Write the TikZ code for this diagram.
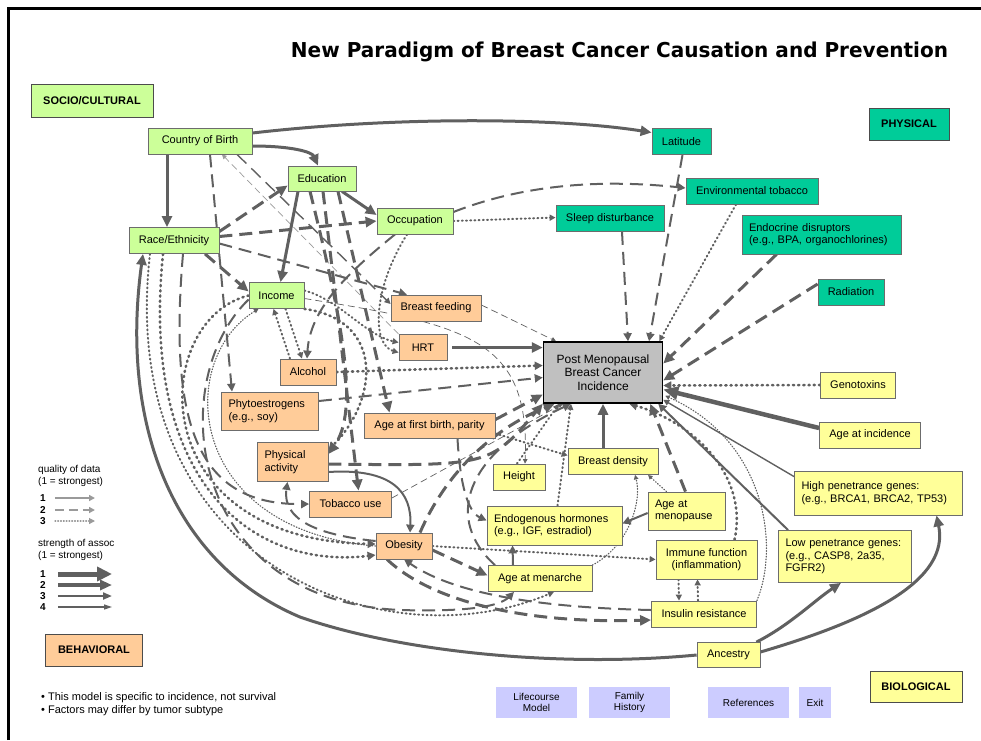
\documentclass[tikz,border=0pt]{standalone}
\usepackage{fontspec}
\usepackage{graphicx}
\setmainfont{Liberation Sans}
\newfontfamily\titlefont{DejaVu Sans}
\usetikzlibrary{arrows.meta,backgrounds}

\definecolor{lncol}{HTML}{606060}
\definecolor{legq}{HTML}{9A9A9A}
\definecolor{soc}{HTML}{CCFF99}
\definecolor{phy}{HTML}{00CC99}
\definecolor{beh}{HTML}{FFCC99}
\definecolor{bio}{HTML}{FFFF99}
\definecolor{btn}{HTML}{CCCCFF}
\definecolor{outc}{HTML}{C0C0C0}

\begin{document}
\begin{tikzpicture}[x=1pt, y=-1pt, font=\fontsize{11}{12.5}\selectfont,
    box/.style={draw=gray!85!black, line width=0.8pt, inner sep=2pt},
    socb/.style={box, fill=soc}, phyb/.style={box, fill=phy},
    behb/.style={box, fill=beh}, biob/.style={box, fill=bio},
    cat/.style={font=\fontsize{11}{13}\selectfont\bfseries, draw=gray!60!black},
    btnb/.style={fill=btn, align=center, inner sep=1pt, font=\fontsize{10}{11.5}\selectfont},
    sz/.style 2 args={minimum width=#1pt, minimum height=#2pt},
    lft/.style={align=left, text width=#1pt, inner xsep=7pt},
    num/.style={inner sep=0pt, font=\fontsize{10}{12}\selectfont\bfseries},
    sa/.style={draw=lncol, line width=4.5pt, -{Triangle[length=15pt,width=13pt]}},
    sb/.style={draw=lncol, line width=3pt, -{Triangle[length=11pt,width=10pt]}},
    sc/.style={draw=lncol, line width=2pt, -{Triangle[length=8pt,width=8pt]}},
    sd/.style={draw=lncol, line width=1.4pt, -{Triangle[length=6pt,width=6pt]}},
    se/.style={draw=lncol, line width=0.7pt, -{Triangle[length=4.5pt,width=4.5pt]}},
    dl/.style={dash pattern=on 13pt off 7pt},
    ds/.style={dash pattern=on 7pt off 4pt},
    dtl/.style={line width=2.6pt, dash pattern=on 1.2pt off 4pt, line cap=round},
    dt/.style={line width=2pt, dash pattern=on 1pt off 3.2pt, line cap=round},
    dts/.style={line width=1.2pt, dash pattern=on 0.8pt off 2pt, line cap=round}]

\useasboundingbox (0,0) rectangle (981,740);
\draw[line width=3pt] (8,740) -- (8,8) -- (981,8);

% title
\node[inner sep=0pt] (ttl) at (619.5,51.5)
  {\resizebox*{657pt}{20pt}{\titlefont\bfseries New Paradigm of Breast Cancer Causation and Prevention}};

% category labels
\node[socb, cat, sz={122}{33}] (lsoc) at (92,100.5) {SOCIO/CULTURAL};
\node[phyb, cat, sz={80}{32}] (lphy) at (909,124) {PHYSICAL};
\node[behb, cat, sz={97}{32}] (lbeh) at (94,650) {BEHAVIORAL};
\node[biob, cat, sz={92}{31}] (lbio) at (916,687) {BIOLOGICAL};

% socio/cultural
\node[socb, sz={104}{26}] (cob) at (200,141) {Country of Birth};
\node[socb, sz={68}{25}] (edu) at (322,178.5) {Education};
\node[socb, sz={76}{26}] (occ) at (415,221) {Occupation};
\node[socb, sz={90}{26}] (race) at (174,240.5) {Race/Ethnicity};
\node[socb, sz={55}{26}] (inc) at (276.5,295.5) {Income};

% physical
\node[phyb, sz={59}{26}] (lat) at (681.5,141.5) {Latitude};
\node[phyb, sz={132}{26}] (envt) at (752,191) {Environmental tobacco};
\node[phyb, sz={108}{26}] (sleep) at (610,218.5) {Sleep disturbance};
\node[phyb, sz={159}{39}, lft=145] (endo) at (821.5,234.5) {Endocrine disruptors\\(e.g., BPA, organochlorines)};
\node[phyb, sz={66}{26}] (rad) at (851,292) {Radiation};

% behavioral
\node[behb, sz={90}{26}] (bf) at (436,308) {Breast feeding};
\node[behb, sz={48}{26}] (hrt) at (423,347.5) {HRT};
\node[behb, sz={56}{26}] (alc) at (308,372) {Alcohol};
\node[behb, sz={97}{38}, lft=83] (phyto) at (270,411) {Phytoestrogens\\(e.g., soy)};
\node[behb, sz={131}{25}] (afb) at (429.5,425.5) {Age at first birth, parity};
\node[behb, sz={71}{39}, lft=56] (pa) at (292.5,462) {Physical\\activity};
\node[behb, sz={82}{26}] (tob) at (350.5,504) {Tobacco use};
\node[behb, sz={56}{26}] (obe) at (404,546) {Obesity};

% outcome
\node[box, fill=outc, draw=black, line width=1.5pt, sz={119}{61}, align=center,
  font=\fontsize{12}{13.5}\selectfont] (post) at (603,372.5) {Post Menopausal\\Breast Cancer\\Incidence};

% biological
\node[biob, sz={75}{26}] (geno) at (858,385) {Genotoxins};
\node[biob, sz={101}{26}] (ainc) at (870,435) {Age at incidence};
\node[biob, sz={168}{44}, lft=154] (hpg) at (878.5,493) {High penetrance genes:\\(e.g., BRCA1, BRCA2, TP53)};
\node[biob, sz={133}{52}, lft=119] (lpg) at (845,556.5) {Low penetrance genes:\\(e.g., CASP8, 2a35,\\FGFR2)};
\node[biob, sz={52}{26}] (hgt) at (519,477) {Height};
\node[biob, sz={90}{26}] (bd) at (613,461.5) {Breast density};
\node[biob, sz={77}{38}, lft=63] (amen) at (686.5,511) {Age at\\menopause};
\node[biob, sz={135}{39}, lft=121] (eh) at (554.5,525.5) {Endogenous hormones\\(e.g., IGF, estradiol)};
\node[biob, sz={101}{39}, align=center] (imm) at (706.5,559.5) {Immune function\\(inflammation)};
\node[biob, sz={104}{26}] (amar) at (540,578.5) {Age at menarche};
\node[biob, sz={105}{26}] (ir) at (704,614) {Insulin resistance};
\node[biob, sz={63}{25}] (anc) at (728.5,655) {Ancestry};

% buttons
\node[btnb, sz={81}{31}] (blc) at (536.5,702.5) {Lifecourse\\Model};
\node[btnb, sz={81}{31}] (bfh) at (629.5,702.5) {Family\\History};
\node[btnb, sz={81}{31}] (bref) at (748.5,702.5) {References};
\node[btnb, sz={32}{31}] (bex) at (815,702.5) {Exit};

% notes
\node[anchor=west, inner sep=0pt] (nt1) at (41,698) {\textbullet\ This model is specific to incidence, not survival};
\node[anchor=west, inner sep=0pt] (nt2) at (41,711) {\textbullet\ Factors may differ by tumor subtype};

% legend
\node[anchor=west, inner sep=0pt, align=left, font=\fontsize{10}{12}\selectfont] (lgq) at (38,476) {quality of data\\(1 = strongest)};
\node[num] (q1) at (43,498) {1};
\node[num] (q2) at (43,510) {2};
\node[num] (q3) at (43,521) {3};
\coordinate (q1e) at (95,498);
\coordinate (q2e) at (95,510);
\coordinate (q3e) at (95,521);
\draw[legq, line width=1.5pt, -{Triangle[length=6pt,width=6pt]}] ([xshift=9pt]q1.east) -- (q1e);
\draw[legq, line width=1.5pt, dash pattern=on 9pt off 5pt, -{Triangle[length=6pt,width=6pt]}] ([xshift=9pt]q2.east) -- (q2e);
\draw[legq, dts, -{Triangle[length=6pt,width=6pt]}] ([xshift=9pt]q3.east) -- (q3e);

\node[anchor=west, inner sep=0pt, align=left, font=\fontsize{10}{12}\selectfont] (lgs) at (38,550) {strength of assoc\\(1 = strongest)};
\node[num] (s1) at (43,574) {1};
\node[num] (s2) at (43,585) {2};
\node[num] (s3) at (43,596) {3};
\node[num] (s4) at (43,607) {4};
\coordinate (s1e) at (112,574);
\coordinate (s2e) at (112,585);
\coordinate (s3e) at (112,596);
\coordinate (s4e) at (112,607);
\draw[lncol, line width=5pt, -{Triangle[length=15pt,width=14pt]}] ([xshift=12pt]s1.east) -- (s1e);
\draw[lncol, line width=3.5pt, -{Triangle[length=12pt,width=10pt]}] ([xshift=12pt]s2.east) -- (s2e);
\draw[lncol, line width=2pt, -{Triangle[length=9pt,width=7pt]}] ([xshift=12pt]s3.east) -- (s3e);
\draw[lncol, line width=1.3pt, -{Triangle[length=8pt,width=5pt]}] ([xshift=12pt]s4.east) -- (s4e);

\begin{pgfonlayer}{background}
% socio/cultural links
\draw[sb] ([yshift=8pt]cob.east) .. controls (400,116) and (560,118) .. ([yshift=9pt]lat.west);
\draw[sb] ([yshift=-5pt]cob.east) .. controls (292,146) and (312,152) .. ([xshift=-4pt]edu.north);
\draw[sb] ([xshift=-33pt]cob.south) -- ([xshift=-7pt]race.north);
\draw[sc, dl] ([xshift=10pt]cob.south) -- ([xshift=-38pt]phyto.north);
\draw[sd, dl] ([xshift=37pt]cob.south) -- ([yshift=4pt]bf.west);
\draw[se, ds, draw=legq] (hrt.north west) -- ([xshift=22pt]cob.south);
\draw[sb, dl] ([yshift=9pt]race.east) -- ([yshift=-7pt]edu.west);
\draw[sb, dl] ([yshift=4pt]race.east) -- (occ.west);
\draw[sc, dl] ([yshift=-3pt]race.east) -- ([xshift=-29pt]bf.north);
\draw[sb, dl] ([xshift=31pt]race.south) -- ([yshift=4pt]inc.west);
\draw[sb] ([xshift=20pt]edu.south) -- ([yshift=6pt]occ.west);
\draw[sb] ([xshift=-24pt]edu.south) -- ([xshift=4pt]inc.north);
\draw[sb, dl] ([xshift=-12pt]edu.south) .. controls (342,320) and (360,410) .. ([yshift=8pt]pa.east);
\draw[sb, dl] ([xshift=1pt]edu.south) -- ([xshift=8pt]tob.north);
\draw[sb, dl] ([xshift=16pt]edu.south) -- ([xshift=-40pt]afb.north);
\draw[sc, dl] ([xshift=-20pt]occ.south) .. controls (345,275) and (310,310) .. ([xshift=-1pt]alc.north);
\draw[sd, dt] ([xshift=-8pt]occ.south) .. controls (372,290) and (372,345) .. ([yshift=-5pt]hrt.west);
\draw[sd, dt] (occ.east) -- ([yshift=1pt]sleep.west);
\draw[sc, dl] ([yshift=9pt]occ.east) .. controls (530,182) and (610,180) .. ([yshift=3pt]envt.west);
\draw[sd, dt] ([xshift=9pt]inc.south) -- ([xshift=-6pt]alc.north);
\draw[sd, dt] ([xshift=-18pt]alc.north) -- ([xshift=-3pt]inc.south);
\draw[sd, dt] ([yshift=5pt]inc.east) .. controls (340,300) and (365,335) .. ([yshift=5pt]hrt.west);
\draw[se, ds] ([yshift=-3pt]inc.east) .. controls (470,325) and (530,340) .. ([xshift=6pt]hgt.north);
\draw[sc, dtl] (inc.south east) .. controls (385,320) and (378,400) .. ([yshift=12pt]pa.east);
\draw[se, dts] (obe.west) .. controls (185,530) and (175,360) .. ([xshift=-18pt]inc.south);
\draw[sc, dtl] (inc.west) .. controls (150,320) and (140,540) .. ([yshift=2pt]obe.west);
\draw[sc, dtl] ([xshift=-11pt]race.south) .. controls (140,480) and (250,570) .. ([yshift=-9pt]obe.west);
\draw[sc, dl] ([xshift=9pt]race.south) .. controls (168,430) and (200,505) .. (tob.west);
\draw[sd, dt] ([xshift=-24pt]race.south) .. controls (115,560) and (380,665) .. ([xshift=14pt]amar.south);
\draw[sc, dl] ([yshift=-4pt]inc.west) .. controls (165,380) and (185,600) .. (400,610)
  .. controls (470,612) and (500,606) .. ([xshift=-26pt]amar.south);
\draw[sb] (anc.west) .. controls (560,668) and (400,652) .. (300,617)
  .. controls (170,562) and (120,420) .. ([xshift=-31pt]race.south);

% behavioral links
\draw[sc] ([yshift=-10pt]pa.east) .. controls (392,468) and (412,492) .. ([xshift=6pt]obe.north);
\draw[sc, dl] ([yshift=5pt]obe.west) .. controls (318,535) and (282,520) .. ([xshift=-5pt]pa.south);
\draw[sb, dl] ([yshift=-2pt]pa.east) .. controls (490,466) .. (post.south west);
\draw[sb, dl] ([xshift=16pt]obe.north) .. controls (445,475) and (490,430) .. ([xshift=12pt]post.south west);
\draw[se, ds] ([yshift=6pt]tob.east) -- ([xshift=20pt]post.south west);
\draw[sc, dl] ([xshift=-45pt]amar.north) .. controls (445,520) and (462,455) .. ([xshift=28pt]post.south west);
\draw[sb, dl] ([yshift=6pt]afb.east) -- ([yshift=-22pt]post.west);
\draw[sd, dt] ([yshift=-8pt]afb.east) -- ([yshift=6pt]bd.west);
\draw[sc, dl] ([xshift=28pt]afb.south) .. controls (460,485) and (468,512) .. ([yshift=5pt]eh.west);
\draw[sc, dl] ([yshift=10pt]phyto.east) -- ([yshift=-5pt]post.west);
\draw[sc, dtl] (alc.east) -- ([yshift=7pt]post.west);
\draw[sb] ([xshift=5pt]hrt.east) -- ([yshift=25pt]post.west);
\draw[se, ds] ([yshift=3pt]bf.east) -- ([xshift=-47pt]post.north);
\draw[sd, dt] (obe.east) -- (imm.west);
\draw[sb, dl] ([yshift=-4pt]obe.east) -- ([yshift=3pt]amar.west);
\draw[sb, dl] ([xshift=-17pt]obe.south) .. controls (430,600) and (520,624) .. ([yshift=-6pt]ir.west);
\draw[sc, dl] ([yshift=4pt]ir.west) .. controls (560,608) and (460,598) .. (obe.south);

% physical links
\draw[sc, dl] ([xshift=12pt]sleep.south) -- ([xshift=25pt]post.north);
\draw[sc, dl] ([xshift=1pt]lat.south) -- ([xshift=46pt]post.north);
\draw[sd, dt] ([xshift=-16pt]envt.south) -- ([xshift=-4pt]post.north east);
\draw[sb, dl] ([xshift=-45pt]endo.south) -- ([yshift=9pt]post.east);
\draw[sb, dl] ([yshift=8pt]rad.west) -- ([yshift=-8pt]post.east);

% biological links
\draw[sc, dtl] (geno.west) -- ([yshift=-13pt]post.east);
\draw[sa] ([yshift=7pt]ainc.west) -- ([yshift=-17pt]post.east);
\draw[sd] ([yshift=-6pt]hpg.north west) -- ([yshift=4pt]post.south east);
\draw[sc] ([xshift=10pt]lpg.north west) -- ([xshift=-5pt]post.south east);
\draw[sb, dl] ([xshift=-1pt]amen.north) -- ([xshift=-13pt]post.south east);
\draw[sc, dtl] ([xshift=28pt]imm.north) .. controls (748,480) and (700,425) .. ([xshift=-34pt]post.south east);
\draw[se, dts] (ir.north east) .. controls (780,545) and (765,440) .. ([xshift=2pt,yshift=8pt]post.south east);
\draw[sb] ([xshift=-10pt]bd.north) -- (post.south);
\draw[sc] ([yshift=-2pt]amen.west) -- ([yshift=2pt]eh.east);
\draw[se, dts] ([xshift=-20pt]amen.north) -- ([xshift=35pt]bd.south);
\draw[sd, dt] ([xshift=-28pt]imm.south) -- ([xshift=-25pt]ir.north);
\draw[sd, dt] ([xshift=-6pt]ir.north) -- ([xshift=-9pt]imm.south);
\draw[sc, dl] ([xshift=-27pt]amar.north) -- ([xshift=-42pt]eh.south);
\draw[se, dts] (amar.north east) .. controls (630,545) and (642,500) .. ([xshift=22pt]bd.south);
\draw[sd, dt] ([xshift=3pt]eh.north) -- ([xshift=-32pt]post.south);
\draw[sd, dt] ([xshift=-2pt]hgt.north) -- ([xshift=-44pt]post.south);
\draw[sb] ([xshift=-4pt]anc.north east) .. controls (790,625) and (815,600) .. ([xshift=-4pt]lpg.south);
\draw[sb] ([yshift=3pt]anc.east) .. controls (870,620) and (950,580) .. ([xshift=58pt]hpg.south);
\end{pgfonlayer}
\end{tikzpicture}
\end{document}
